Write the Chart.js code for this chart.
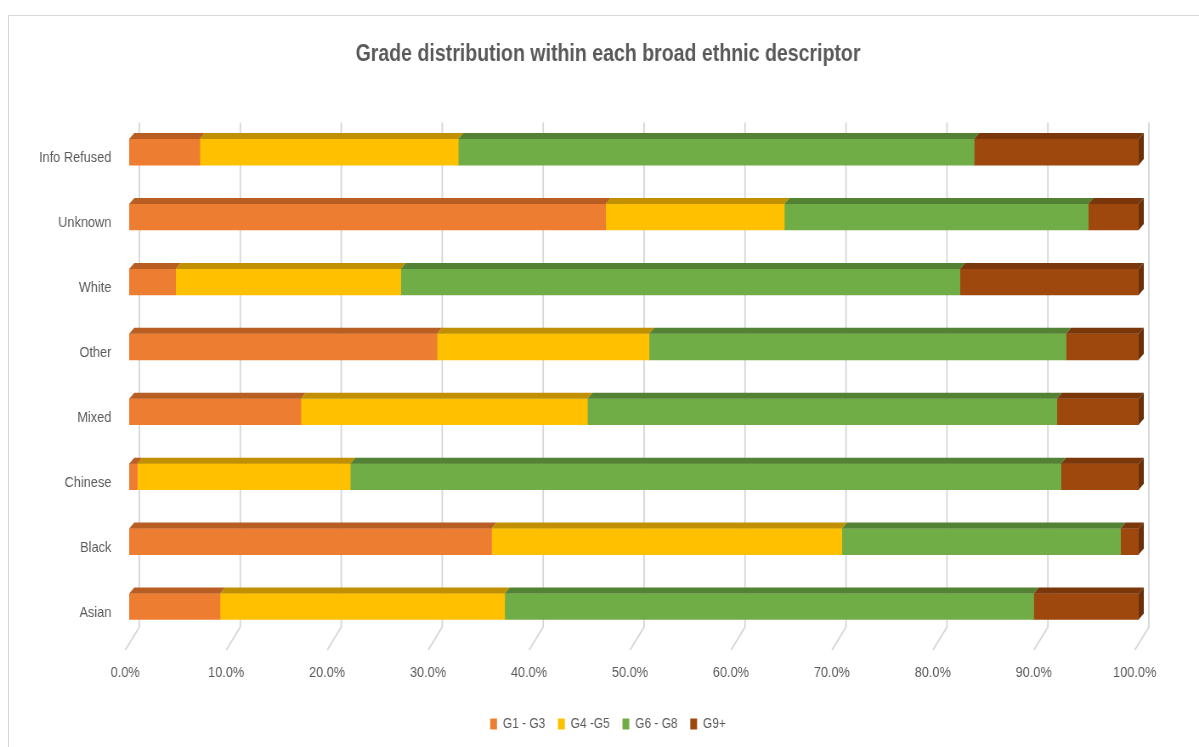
<!DOCTYPE html>
<html>
<head>
<meta charset="utf-8">
<script src="https://cdn.jsdelivr.net/npm/chart.js@4.4.1/dist/chart.umd.min.js"></script>
<style>
  html, body { margin: 0; padding: 0; background: #fff; }
  #wrap { position: relative; width: 1199px; height: 747px; overflow: hidden; }
  #frame { position: absolute; left: 8px; top: 15px; width: 1300px; height: 800px; border: 1px solid #d9d9d9; }
  #chart { position: absolute; left: 0; top: 0; }
</style>
</head>
<body>
<div id="wrap">
  <div id="frame"></div>
  <!-- drawn wide and squeezed into 1199px so the text gets the narrow office look -->
  <canvas id="chart" width="1411" height="747" style="width:1199px;height:747px"></canvas>
</div>
<script>
var font = '"Liberation Sans", Arial, sans-serif';

var categories = ['Info Refused', 'Unknown', 'White', 'Other', 'Mixed', 'Chinese', 'Black', 'Asian'];
var g1g3 = [7.0, 47.2, 4.6, 30.5, 17.0, 0.8, 35.9, 9.0];
var g4g5 = [25.6, 17.7, 22.3, 21.0, 28.4, 21.1, 34.7, 28.2];
var g6g8 = [51.1, 30.1, 55.4, 41.3, 46.5, 70.4, 27.6, 52.4];
var g9 = [16.3, 5.0, 17.7, 7.2, 8.1, 7.7, 1.8, 10.4];
var xTicks = [0, 10, 20, 30, 40, 50, 60, 70, 80, 90, 100];

// front colour, top face colour, side face colour
var colours = [
    ['#ED7D31', '#B85E23', '#A0511D'],
    ['#FFC000', '#C09000', '#A67C00'],
    ['#70AD47', '#548235', '#47702D'],
    ['#9E480E', '#7A370B', '#6A300A']
];
var DX = 6, DY = 6;

// back-wall gridlines with a slanted foot, like the excel floor
var wallGrid = {
    id: 'wallGrid',
    beforeDatasetsDraw: function(chart) {
        var ctx = chart.ctx, x = chart.scales.x, a = chart.chartArea;
        ctx.save();
        ctx.strokeStyle = '#d6d6d6';
        ctx.lineWidth = 1.8;
        xTicks.forEach(function(v) {
            var px = x.getPixelForValue(v) + 12;
            ctx.beginPath();
            ctx.moveTo(px, a.top + 3);
            ctx.lineTo(px, a.bottom - 12);
            ctx.lineTo(px - 16.5, a.bottom + 11);
            ctx.stroke();
        });
        ctx.restore();
    }
};

// top faces and right end face for the 3d look
var bars3d = {
    id: 'bars3d',
    afterDatasetsDraw: function(chart) {
        var ctx = chart.ctx;
        var last = chart.data.datasets.length - 1;
        ctx.save();
        chart.data.datasets.forEach(function(ds, i) {
            chart.getDatasetMeta(i).data.forEach(function(bar) {
                var p = bar.getProps(['x', 'y', 'base', 'height'], true);
                var top = p.y - p.height / 2, bottom = p.y + p.height / 2;
                ctx.fillStyle = colours[i][1];
                ctx.beginPath();
                ctx.moveTo(p.base, top);
                ctx.lineTo(p.x, top);
                ctx.lineTo(p.x + DX, top - DY);
                ctx.lineTo(p.base + DX, top - DY);
                ctx.closePath();
                ctx.fill();
                if (i === last) {
                    ctx.fillStyle = colours[i][2];
                    ctx.beginPath();
                    ctx.moveTo(p.x, top);
                    ctx.lineTo(p.x + DX, top - DY);
                    ctx.lineTo(p.x + DX, bottom - DY);
                    ctx.lineTo(p.x, bottom);
                    ctx.closePath();
                    ctx.fill();
                }
            });
        });
        ctx.restore();
    }
};

function series(label, data, i) {
    return {
        label: label,
        data: data,
        backgroundColor: colours[i][0],
        borderWidth: 0,
        barThickness: 26
    };
}

new Chart(document.getElementById('chart'), {
    type: 'bar',
    data: {
        labels: categories,
        datasets: [
            series('G1 - G3', g1g3, 0),
            series('G4 -G5', g4g5, 1),
            series('G6 - G8', g6g8, 2),
            series('G9+', g9, 3)
        ]
    },
    options: {
        indexAxis: 'y',
        responsive: false,
        devicePixelRatio: 1,
        animation: false,
        layout: { padding: { left: 20, right: 0, top: 0, bottom: 6 } },
        scales: {
            x: {
                stacked: true,
                min: 0,
                max: 100,
                grid: { display: false, drawTicks: false },
                border: { display: false },
                afterBuildTicks: function(scale) {
                    scale.ticks = xTicks.map(function(v) { return { value: v }; });
                },
                afterFit: function(scale) { scale.height = 63; },
                ticks: {
                    padding: 24.5,
                    labelOffset: -4.7,
                    color: '#595959',
                    font: { family: font, size: 15 },
                    callback: function(v) { return v.toFixed(1) + '%'; }
                }
            },
            y: {
                stacked: true,
                grid: { display: false, drawTicks: false },
                border: { display: false },
                afterFit: function(scale) { scale.width = 132; },
                ticks: {
                    padding: 21,
                    labelOffset: 6,
                    color: '#595959',
                    font: { family: font, size: 15 }
                }
            },
            // empty strip on the right so the plot ends where the wall does
            rightGap: {
                type: 'linear',
                position: 'right',
                grid: { display: false, drawTicks: false },
                border: { display: false },
                ticks: { display: false },
                afterFit: function(scale) { scale.width = 71; }
            }
        },
        plugins: {
            title: {
                display: true,
                text: 'Grade distribution within each broad ethnic descriptor',
                color: '#595959',
                font: { family: font, size: 23, weight: 'bold' },
                padding: { top: 41, bottom: 51 }
            },
            legend: {
                position: 'bottom',
                labels: {
                    boxWidth: 8,
                    boxHeight: 11,
                    padding: 15,
                    color: '#595959',
                    font: { family: font, size: 14 }
                }
            },
            tooltip: { enabled: false }
        }
    },
    plugins: [wallGrid, bars3d]
});
</script>
</body>
</html>
